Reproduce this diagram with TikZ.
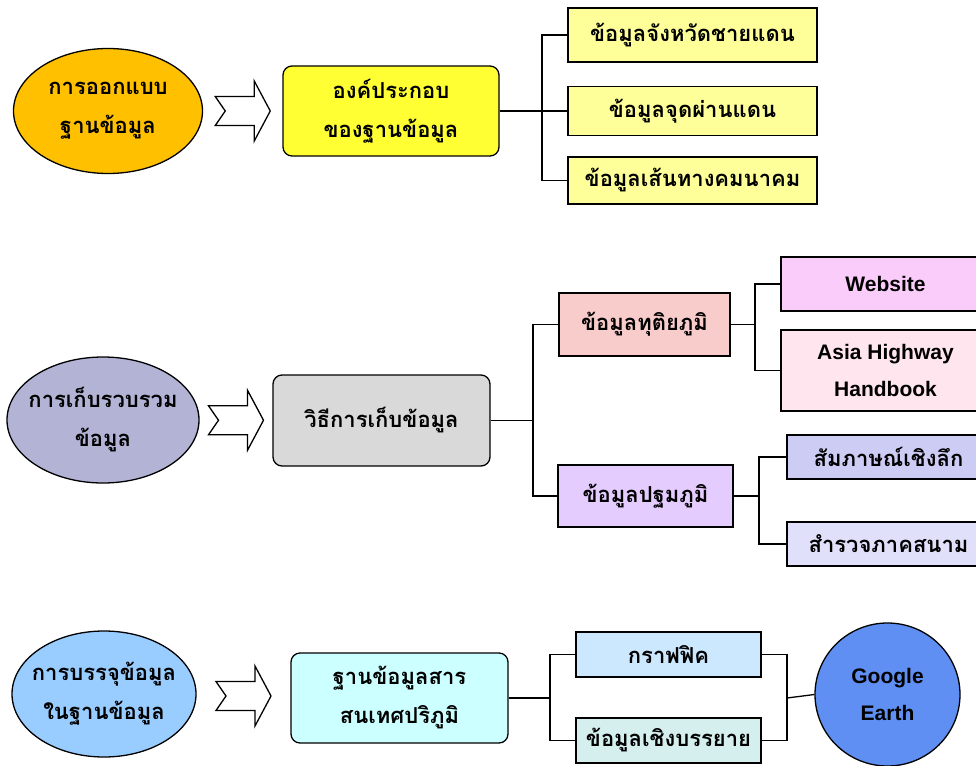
\documentclass[tikz,border=0pt]{standalone}
\usepackage{fontspec}
\setmainfont{Liberation Sans}
\newfontfamily\thaifont[Script=Thai]{Loma}
\usetikzlibrary{calc,shapes.geometric}

\definecolor{goldfill}{HTML}{FFC000}
\definecolor{yelfill}{HTML}{FFFF33}
\definecolor{paleyel}{HTML}{FFFF99}
\definecolor{lavgrey}{HTML}{B3B3D6}
\definecolor{greyfill}{HTML}{D9D9D9}
\definecolor{rosefill}{HTML}{F9CCCC}
\definecolor{violfill}{HTML}{E5CCFF}
\definecolor{pinkfill}{HTML}{FACCFA}
\definecolor{palepink}{HTML}{FFE6EE}
\definecolor{bluelav}{HTML}{CCCCF5}
\definecolor{palelav}{HTML}{E0E0FA}
\definecolor{skyfill}{HTML}{99CCFF}
\definecolor{cyanfill}{HTML}{CCFFFF}
\definecolor{iceblue}{HTML}{CCE8FF}
\definecolor{paleteal}{HTML}{D5EEEE}
\definecolor{globefill}{HTML}{5F8FF2}

\tikzset{
  thaitext/.style={font=\thaifont\bfseries\fontsize{22}{39}\selectfont},
  engtext/.style={font=\bfseries\fontsize{21}{37}\selectfont},
  oval/.style={ellipse, draw, line width=1.3pt, inner xsep=-25pt, inner ysep=0pt, align=center, thaitext},
  mainbox/.style={rectangle, rounded corners=9pt, draw, line width=1.3pt, inner sep=0pt, align=center, thaitext},
  leaf/.style={rectangle, draw, line width=1.3pt, inner sep=0pt, align=center, thaitext},
  link/.style={line width=1.3pt},
  bigarrow/.pic={
    \draw[line width=1.3pt, fill=white] (-27.5,-14.5) -- (11.5,-14.5) -- (11.5,-30) -- (27.5,0)
      -- (11.5,30) -- (11.5,14.5) -- (-27.5,14.5) -- (-17.5,0) -- cycle;
  }
}

\begin{document}
\begin{tikzpicture}[x=1pt, y=-1pt]
    \useasboundingbox (0,0) rectangle (976,765);
    \fill[white] (0,0) rectangle (976,765);
    \clip (0,0) rectangle (976,765);

    % design row
    \node[oval, fill=goldfill, minimum width=189pt, minimum height=125pt] (des) at (108,111) {การออกแบบ\\ฐานข้อมูล};
    \node[mainbox, fill=yelfill, minimum width=216pt, minimum height=90pt] (comp) at (391,111) {องค์ประกอบ\\ของฐานข้อมูล};
    \node[leaf, fill=paleyel, minimum width=249pt, minimum height=54pt] (prov) at (692.5,35) {ข้อมูลจังหวัดชายแดน};
    \node[leaf, fill=paleyel, minimum width=249pt, minimum height=49pt] (pass) at (692.5,111) {ข้อมูลจุดผ่านแดน};
    \node[leaf, fill=paleyel, minimum width=249pt, minimum height=47pt] (route) at (692.5,180.5) {ข้อมูลเส้นทางคมนาคม};
    \pic at ($(des.east)!0.5!(comp.west)$) {bigarrow};
    \coordinate (j1) at (542,111);
    \draw[link] (comp.east) -- (j1);
    \draw[link] (prov.west) -| (j1) |- (route.west);
    \draw[link] (j1) -- (pass.west);

    % collection row
    \node[oval, fill=lavgrey, minimum width=192pt, minimum height=126pt] (col) at (103,420) {การเก็บรวบรวม\\ข้อมูล};
    \node[mainbox, fill=greyfill, minimum width=217pt, minimum height=91pt] (meth) at (381.5,420.5) {วิธีการเก็บข้อมูล};
    \node[leaf, fill=rosefill, minimum width=171pt, minimum height=63pt] (sec) at (644.5,324.5) {ข้อมูลทุติยภูมิ};
    \node[leaf, fill=violfill, minimum width=175pt, minimum height=62pt] (pri) at (645.5,496) {ข้อมูลปฐมภูมิ};
    \node[leaf, engtext, fill=pinkfill, minimum width=209pt, minimum height=54pt] (web) at (885.5,284) {Website};
    \node[leaf, engtext, fill=palepink, minimum width=209pt, minimum height=81pt] (asia) at (885.5,370.5) {Asia Highway\\Handbook};
    \node[leaf, fill=bluelav, minimum width=203pt, minimum height=44pt] (intv) at (888.5,457) {สัมภาษณ์เชิงลึก};
    \node[leaf, fill=palelav, minimum width=203pt, minimum height=44pt] (surv) at (888.5,544) {สำรวจภาคสนาม};
    \pic at ($(col.east)!0.5!(meth.west)$) {bigarrow};
    \coordinate (j2) at (533,420.5);
    \coordinate (j3) at (755,324.5);
    \coordinate (j4) at (759,496);
    \draw[link] (meth.east) -- (j2);
    \draw[link] (sec.west) -| (j2) |- (pri.west);
    \draw[link] (sec.east) -- (j3);
    \draw[link] (web.west) -| (j3) |- (asia.west);
    \draw[link] (pri.east) -- (j4);
    \draw[link] (intv.west) -| (j4) |- (surv.west);

    % loading row
    \node[oval, fill=skyfill, minimum width=184pt, minimum height=126pt] (load) at (104,694) {การบรรจุข้อมูล\\ในฐานข้อมูล};
    \node[mainbox, fill=cyanfill, minimum width=217pt, minimum height=90pt] (gis) at (399.5,698) {ฐานข้อมูลสาร\\สนเทศปริภูมิ};
    \node[leaf, fill=iceblue, minimum width=185pt, minimum height=45pt] (graph) at (668.5,654.5) {กราฟฟิค};
    \node[leaf, fill=paleteal, minimum width=185pt, minimum height=45pt] (desc) at (668.5,740.5) {ข้อมูลเชิงบรรยาย};
    \node[ellipse, draw, line width=1.3pt, inner sep=0pt, align=center, engtext, fill=globefill,
          minimum width=145pt, minimum height=143pt] (ge) at (887.5,694.5) {Google\\Earth};
    \pic at ($(load.east)!0.5!(gis.west)$) {bigarrow};
    \coordinate (j5) at (550,698);
    \coordinate (j6) at (787,698);
    \draw[link] (gis.east) -- (j5);
    \draw[link] (graph.west) -| (j5) |- (desc.west);
    \draw[link] (graph.east) -| (j6) |- (desc.east);
    \draw[link] (j6) -- (ge.west);
\end{tikzpicture}
\end{document}
